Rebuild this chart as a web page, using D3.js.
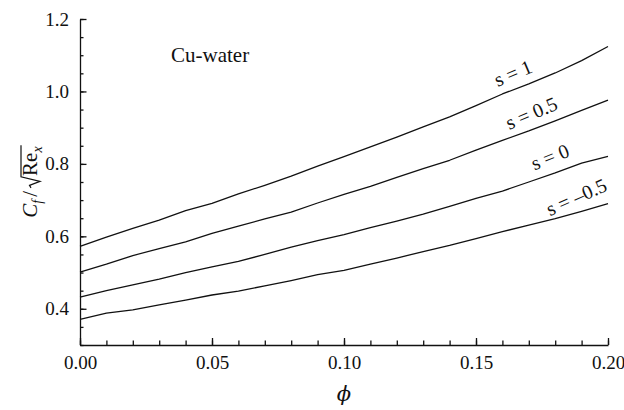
<!DOCTYPE html>
<html>
<head>
<meta charset="utf-8">
<script src="https://cdn.jsdelivr.net/npm/d3@7"></script>
<style>
  html, body { margin: 0; padding: 0; background: #fff; }
  svg { display: block; }
  text { font-family: "Liberation Serif", "Times New Roman", serif; fill: #111; }
</style>
</head>
<body>
<svg id="chart" width="624" height="410"></svg>
<script>
// Volume fraction of nanoparticles
const phi = [0.00, 0.01, 0.02, 0.03, 0.04, 0.05, 0.06, 0.07, 0.08, 0.09, 0.10,
             0.11, 0.12, 0.13, 0.14, 0.15, 0.16, 0.17, 0.18, 0.19, 0.20];

// Skin friction C_f / sqrt(Re_x) for each value of s
const cfS1 = [0.572, 0.598, 0.622, 0.645, 0.671, 0.691, 0.717, 0.741, 0.766, 0.794, 0.820,
              0.847, 0.874, 0.902, 0.930, 0.961, 0.993, 1.021, 1.051, 1.085, 1.124];
const cfS05 = [0.501, 0.523, 0.547, 0.566, 0.585, 0.608, 0.628, 0.648, 0.667, 0.692, 0.716,
               0.738, 0.763, 0.787, 0.810, 0.838, 0.865, 0.891, 0.919, 0.948, 0.976];
const cfS0 = [0.432, 0.450, 0.466, 0.482, 0.500, 0.516, 0.531, 0.550, 0.570, 0.588, 0.605,
              0.624, 0.642, 0.661, 0.683, 0.705, 0.725, 0.750, 0.775, 0.802, 0.821];
const cfSm05 = [0.371, 0.388, 0.397, 0.411, 0.424, 0.438, 0.449, 0.463, 0.478, 0.494, 0.506,
                0.523, 0.540, 0.558, 0.575, 0.594, 0.613, 0.631, 0.649, 0.669, 0.690];

const seriesLabels = ["s = 1", "s = 0.5", "s = 0", "s = \u20130.5"];
const seriesValues = [cfS1, cfS05, cfS0, cfSm05];

const xMajorTicks = [0.00, 0.05, 0.10, 0.15, 0.20];
const yMajorTicks = [0.4, 0.6, 0.8, 1.0, 1.2];
const fluidName = "Cu-water";

// ---- layout ----
const svg = d3.select("#chart");
const plotLeft = 80, plotRight = 608, plotTop = 19, plotBottom = 345;

const x = d3.scaleLinear().domain([0, 0.2]).range([plotLeft, plotRight]);
const y = d3.scaleLinear().domain([0.3, 1.2]).range([plotBottom, plotTop]);

const tickFont = 19;
const ink = "#111";

// ---- x axis: minor ticks every 0.01, major every 0.05, all pointing inward ----
const xMinor = d3.range(0, 0.2001, 0.01);
svg.append("g")
  .attr("transform", `translate(0,${plotBottom})`)
  .call(d3.axisBottom(x).tickValues(xMinor).tickSize(-4.5).tickSizeOuter(0).tickFormat(""))
  .call(g => g.select(".domain").remove());
const gx = svg.append("g")
  .attr("transform", `translate(0,${plotBottom})`)
  .call(d3.axisBottom(x).tickValues(xMajorTicks).tickSize(-7).tickSizeOuter(0)
        .tickPadding(11).tickFormat(d3.format(".2f")));
gx.selectAll("text").style("font-size", tickFont + "px").attr("fill", ink);

// ---- y axis: minor ticks every 0.05, major every 0.2 ----
const yMinor = d3.range(0.3, 1.2001, 0.05);
svg.append("g")
  .attr("transform", `translate(${plotLeft},0)`)
  .call(d3.axisLeft(y).tickValues(yMinor).tickSize(-3.5).tickSizeOuter(0).tickFormat(""))
  .call(g => g.select(".domain").remove());
const gy = svg.append("g")
  .attr("transform", `translate(${plotLeft},0)`)
  .call(d3.axisLeft(y).tickValues(yMajorTicks).tickSize(-6.5).tickSizeOuter(0)
        .tickPadding(11).tickFormat(d3.format(".1f")));
gy.selectAll("text").style("font-size", tickFont + "px").attr("fill", ink);

svg.selectAll(".domain, .tick line").attr("stroke", ink).attr("stroke-width", 1.3);

// ---- curves ----
const line = d3.line().x((d, i) => x(phi[i])).y(d => y(d));
svg.append("g").selectAll("path")
  .data(seriesValues)
  .join("path")
  .attr("d", d => line(d))
  .attr("fill", "none")
  .attr("stroke", ink)
  .attr("stroke-width", 1.3)
  .attr("stroke-linejoin", "round");

// ---- curve labels, set just above each curve and tilted with it ----
const labelPlacement = [
  { at: 0.164, lift: 17, angle: -23 },
  { at: 0.171, lift: 17, angle: -23 },
  { at: 0.178, lift: 18, angle: -22 },
  { at: 0.188, lift: 16, angle: -24 }
];
seriesLabels.forEach((label, k) => {
  const p = labelPlacement[k];
  const v = d3.scaleLinear().domain(phi).range(seriesValues[k])(p.at);
  const cx = x(p.at), cy = y(v) - p.lift;
  svg.append("text")
    .attr("transform", `translate(${cx},${cy}) rotate(${p.angle})`)
    .attr("text-anchor", "middle")
    .attr("dominant-baseline", "central")
    .style("font-size", "20px")
    .text(label);
});

// ---- fluid annotation ----
svg.append("text")
  .attr("x", 171).attr("y", 62)
  .style("font-size", "21px")
  .text(fluidName);

// ---- x axis title ----
svg.append("text")
  .attr("x", x(0.1)).attr("y", 401)
  .attr("text-anchor", "middle")
  .style("font-size", "21px")
  .style("font-style", "italic")
  .style("font-family", "'DejaVu Serif', 'Liberation Serif', serif")
  .text("\u03D5");

// ---- y axis title: C_f / sqrt(Re_x), built piece by piece ----
const yTitle = svg.append("g");
const inner = yTitle.append("g");
const fs = 21, subFs = 14;
let cursor = 0;
function piece(str, opts = {}) {
  const t = inner.append("text")
    .attr("x", cursor)
    .attr("y", opts.sub ? 5 : 0)
    .style("font-size", (opts.sub ? subFs : fs) + "px")
    .style("font-style", opts.italic ? "italic" : "normal")
    .text(str);
  cursor += t.node().getComputedTextLength();
  return t;
}
piece("C", { italic: true });
piece("f", { italic: true, sub: true });
cursor += 3;
piece("/");
cursor += 3;
// radical sign drawn as a path, with its bar spanning Re_x
const radStart = cursor;
const radW = 12;
cursor += radW;
const barStart = cursor;
piece("Re");
piece("x", { italic: true, sub: true });
const barEnd = cursor + 1;
const capTop = -16;
inner.append("path")
  .attr("d", `M${radStart},-6 L${radStart + 2.5},-7.5 L${radStart + 6.5},3 L${barStart - 1},${capTop} L${barEnd},${capTop}`)
  .attr("fill", "none")
  .attr("stroke", ink)
  .attr("stroke-width", 1.2)
  .attr("stroke-linejoin", "miter");
inner.attr("transform", `translate(${-cursor / 2},0)`);
yTitle.attr("transform", `translate(37,${(plotTop + plotBottom) / 2}) rotate(-90)`);
</script>
</body>
</html>
